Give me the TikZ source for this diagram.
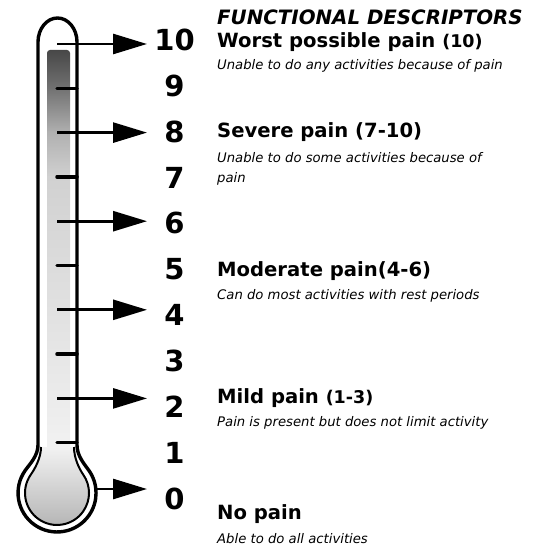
\documentclass[tikz,border=0pt]{standalone}
\usepackage{fontspec}
\setmainfont{DejaVu Sans}
\usepackage{tikz}
\usetikzlibrary{calc, arrows.meta}
\usepackage{tkz-euclide}

\newcommand{\painrange}[1]{{\fontsize{17.5}{18}\selectfont #1}}

\tikzset{
  wall/.style={line width=3.4pt},
  scaletick/.style={line width=3.5pt, line cap=round},
  painarrow/.style={line width=2.7pt, -{Triangle[length=34pt, width=20pt]}},
  digit/.style={inner sep=0pt, font=\bfseries\fontsize{29}{30}\selectfont},
  title/.style={anchor=base west, inner sep=0pt, font=\bfseries\itshape\fontsize{19.8}{21}\selectfont},
  head/.style={anchor=base west, inner sep=0pt, font=\bfseries\fontsize{19.6}{20}\selectfont},
  desc/.style={anchor=base west, inner sep=0pt, font=\itshape\fontsize{13.2}{15}\selectfont},
}

\begin{document}
\begin{tikzpicture}[x=1pt, y=-1pt]
                \useasboundingbox (0,0) rectangle (539,545);
                % mercury column, dark at the top
                \shade[top color=black!72, bottom color=black!55, rounded corners=3pt] (47,89.5) |- (70,50) -- (70,89.5);
                \shade[top color=black!55, bottom color=black!31] (47,89) rectangle (70,132.5);
                \shade[top color=black!31, bottom color=black!18] (47,132) rectangle (70,177.5);
                \shade[top color=black!18, bottom color=black!5] (47,177) rectangle (70,456);
                % bulb
                \shade[top color=black!5, bottom color=black!30] (41,447) .. controls (41,458) and (34.8,468.9) .. (30.8,474.6)
                    arc[start angle=215, end angle=-35, radius=32] .. controls (79.2,468.9) and (74,458) .. (74,447) -- cycle;
                \draw[line width=2pt] (41,447) .. controls (41,458) and (34.8,468.9) .. (30.8,474.6)
                    arc[start angle=215, end angle=-35, radius=32] .. controls (79.2,468.9) and (74,458) .. (74,447);
                \draw[wall] (38,42) -- (38,445) .. controls (38,456) and (29.7,464) .. (25.1,470.6)
                    arc[start angle=215, end angle=-35, radius=39] .. controls (84.3,464) and (77,456) .. (77,445)
                    -- (77,42) arc[start angle=0, end angle=-180, x radius=19.5, y radius=24] -- cycle;
                % scale
                \foreach \n in {1,3,...,9} {
                    \coordinate (t\n) at (57,{44+44.3*(10-\n)});
                    \coordinate (w\n) at (77,{44+44.3*(10-\n)});
                    \draw[scaletick] (t\n) -- (w\n);
                }
                \foreach \n in {0,...,10}
                    \node[digit] (d\n) at (174.5,{40+45.85*(10-\n)}) {\n};
                \tkzDefPoints{57/44/T10, 147/44/H10, 57/132.6/T8, 147/132.6/H8, 57/221.2/T6, 147/221.2/H6,
                    57/309.8/T4, 147/309.8/H4, 57/398.4/T2, 147/398.4/H2, 97/489/T0, 147/489/H0}
                \foreach \n in {10,8,6,4,2,0}
                    \draw[painarrow] (T\n) -- (H\n);
                % descriptors
                \node[title] (hdr) at (217,25) {FUNCTIONAL DESCRIPTORS};
                \node[head] (h10) at (217,48) {Worst possible pain \painrange{(10)}};
                \node[desc] (s10) at (217,70) {Unable to do any activities because of pain};
                \node[head] (h8) at (217,138) {Severe pain (7-10)};
                \node[desc] (s8) at (217,163) {Unable to do some activities because of};
                \node[desc] (s8b) at (217,183) {pain};
                \node[head] (h5) at (217,276) {Moderate pain(4-6)};
                \node[desc] (s5) at (217,299) {Can do most activities with rest periods};
                \node[head] (h2) at (217,403) {Mild pain \painrange{(1-3)}};
                \node[desc] (s2) at (217,426) {Pain is present but does not limit activity};
                \node[head] (h0) at (217,519) {No pain};
                \node[desc] (s0) at (217,543) {Able to do all activities};
            \end{tikzpicture}
\end{document}
